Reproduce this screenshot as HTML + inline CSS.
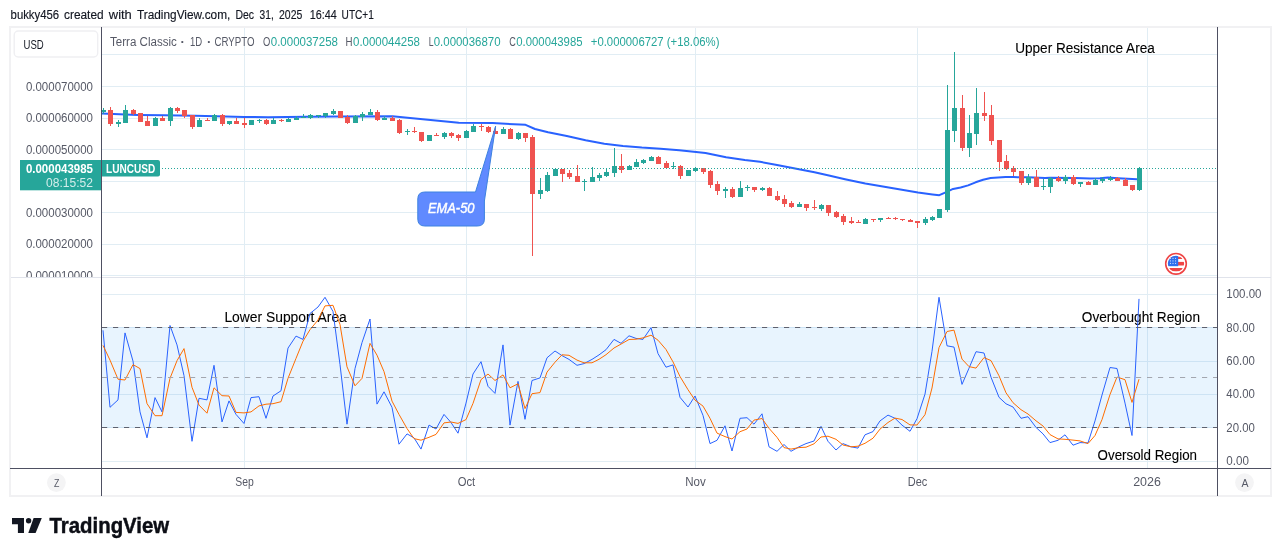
<!DOCTYPE html>
<html><head><meta charset="utf-8"><title>LUNCUSD chart</title>
<style>html,body{margin:0;padding:0;background:#fff}svg{display:block}</style></head>
<body>
<svg width="1281" height="556" viewBox="0 0 1281 556" font-family='"Liberation Sans", sans-serif'>
<rect width="1281" height="556" fill="#fff"/>
<rect x="10" y="27" width="1261" height="469" fill="#fff" stroke="#f1f1f3" stroke-width="2"/>
<defs>
<clipPath id="cp1"><rect x="102" y="28" width="1115" height="249"/></clipPath>
<clipPath id="cp2"><rect x="102" y="278" width="1115" height="190"/></clipPath>
<clipPath id="cpl"><rect x="11" y="28" width="90" height="249"/></clipPath>
<clipPath id="flag"><circle cx="1176" cy="263.8" r="8.1"/></clipPath>
</defs>
<g fill="#e1edf4" shape-rendering="crispEdges">
<rect x="102" y="54" width="1115" height="1"/>
<rect x="102" y="86" width="1115" height="1"/>
<rect x="102" y="118" width="1115" height="1"/>
<rect x="102" y="149" width="1115" height="1"/>
<rect x="102" y="181" width="1115" height="1"/>
<rect x="102" y="212" width="1115" height="1"/>
<rect x="102" y="244" width="1115" height="1"/>
<rect x="102" y="275" width="1115" height="1"/>
<rect x="244" y="28" width="1" height="249"/>
<rect x="244" y="278" width="1" height="190"/>
<rect x="466" y="28" width="1" height="249"/>
<rect x="466" y="278" width="1" height="190"/>
<rect x="695" y="28" width="1" height="249"/>
<rect x="695" y="278" width="1" height="190"/>
<rect x="917" y="28" width="1" height="249"/>
<rect x="917" y="278" width="1" height="190"/>
<rect x="1147" y="28" width="1" height="249"/>
<rect x="1147" y="278" width="1" height="190"/>
<rect x="102" y="294" width="1115" height="1"/>
<rect x="102" y="327" width="1115" height="1"/>
<rect x="102" y="361" width="1115" height="1"/>
<rect x="102" y="394" width="1115" height="1"/>
<rect x="102" y="427" width="1115" height="1"/>
<rect x="102" y="461" width="1115" height="1"/>
</g>
<g clip-path="url(#cp1)">
<polyline points="102,113.6 137.5,114.9 164,115.3 195,115.8 216,116.3 244,116.9 268,117.2 287,117.1 306,116.8 337.5,116.6 392.5,116.25 410,118.1 458.75,122.75 492.5,123.1 520,124.5 525.6,124.8 535,129.0 548.1,132.2 566.8,136 585.6,140.3 604.3,143.7 623,145.9 641.8,147.6 660.5,148.7 679.3,150.2 696.1,152.1 705.5,153 726.1,157.2 744.8,160 760,161.8 777,165.1 814.5,172.3 830,175.7 845,179.2 865.3,183.6 918,192.5 932.5,194.4 939.3,195.2 945.1,192.6 953.1,188.9 960.6,187.5 968.1,185.4 975.6,182.3 983.1,179.8 990.6,178.1 998.1,177.5 1005.6,177.1 1013,177.1 1028,177.3 1045,177.9 1050,177.8 1075,177.9 1090,178.4 1100,178.2 1108,177.6 1118,178.2 1137,179.3" fill="none" stroke="#2962ff" stroke-width="2" stroke-linejoin="round" stroke-linecap="round"/>
<g shape-rendering="crispEdges">
<rect x="103" y="108" width="1" height="6" fill="#26a69a"/><rect x="101" y="110" width="5" height="2" fill="#26a69a"/>
<rect x="110" y="107" width="1" height="19" fill="#ef5350"/><rect x="108" y="110" width="5" height="14" fill="#ef5350"/>
<rect x="118" y="120" width="1" height="7" fill="#26a69a"/><rect x="116" y="122" width="5" height="2" fill="#26a69a"/>
<rect x="125" y="105" width="1" height="18" fill="#26a69a"/><rect x="123" y="110" width="5" height="13" fill="#26a69a"/>
<rect x="133" y="109" width="1" height="6" fill="#ef5350"/><rect x="131" y="110" width="5" height="4" fill="#ef5350"/>
<rect x="140" y="113" width="1" height="9" fill="#ef5350"/><rect x="138" y="113" width="5" height="9" fill="#ef5350"/>
<rect x="147" y="116" width="1" height="10" fill="#ef5350"/><rect x="145" y="121" width="5" height="5" fill="#ef5350"/>
<rect x="155" y="117" width="1" height="9" fill="#26a69a"/><rect x="153" y="118" width="5" height="8" fill="#26a69a"/>
<rect x="162" y="116" width="1" height="5" fill="#ef5350"/><rect x="160" y="118" width="5" height="3" fill="#ef5350"/>
<rect x="170" y="107" width="1" height="19" fill="#26a69a"/><rect x="168" y="108" width="5" height="13" fill="#26a69a"/>
<rect x="177" y="107" width="1" height="6" fill="#ef5350"/><rect x="175" y="108" width="5" height="3" fill="#ef5350"/>
<rect x="184" y="110" width="1" height="8" fill="#ef5350"/><rect x="182" y="110" width="5" height="6" fill="#ef5350"/>
<rect x="192" y="115" width="1" height="14" fill="#ef5350"/><rect x="190" y="115" width="5" height="12" fill="#ef5350"/>
<rect x="199" y="118" width="1" height="9" fill="#26a69a"/><rect x="197" y="120" width="5" height="7" fill="#26a69a"/>
<rect x="207" y="118" width="1" height="3" fill="#ef5350"/><rect x="205" y="120" width="5" height="1" fill="#ef5350"/>
<rect x="214" y="114" width="1" height="7" fill="#26a69a"/><rect x="212" y="115" width="5" height="6" fill="#26a69a"/>
<rect x="222" y="114" width="1" height="12" fill="#ef5350"/><rect x="220" y="115" width="5" height="9" fill="#ef5350"/>
<rect x="229" y="121" width="1" height="4" fill="#26a69a"/><rect x="227" y="121" width="5" height="3" fill="#26a69a"/>
<rect x="236" y="118" width="1" height="6" fill="#ef5350"/><rect x="234" y="121" width="5" height="3" fill="#ef5350"/>
<rect x="244" y="118" width="1" height="10" fill="#ef5350"/><rect x="242" y="123" width="5" height="2" fill="#ef5350"/>
<rect x="251" y="120" width="1" height="5" fill="#26a69a"/><rect x="249" y="120" width="5" height="5" fill="#26a69a"/>
<rect x="259" y="119" width="1" height="4" fill="#26a69a"/><rect x="257" y="120" width="5" height="1" fill="#26a69a"/>
<rect x="266" y="119" width="1" height="6" fill="#ef5350"/><rect x="264" y="120" width="5" height="4" fill="#ef5350"/>
<rect x="273" y="118" width="1" height="6" fill="#26a69a"/><rect x="271" y="120" width="5" height="4" fill="#26a69a"/>
<rect x="281" y="119" width="1" height="3" fill="#ef5350"/><rect x="279" y="120" width="5" height="1" fill="#ef5350"/>
<rect x="288" y="118" width="1" height="4" fill="#26a69a"/><rect x="286" y="119" width="5" height="3" fill="#26a69a"/>
<rect x="296" y="116" width="1" height="4" fill="#26a69a"/><rect x="294" y="118" width="5" height="2" fill="#26a69a"/>
<rect x="303" y="114" width="1" height="4" fill="#26a69a"/><rect x="301" y="117" width="5" height="1" fill="#26a69a"/>
<rect x="310" y="114" width="1" height="5" fill="#26a69a"/><rect x="308" y="115" width="5" height="3" fill="#26a69a"/>
<rect x="318" y="115" width="1" height="3" fill="#26a69a"/><rect x="316" y="115" width="5" height="1" fill="#26a69a"/>
<rect x="325" y="113" width="1" height="5" fill="#26a69a"/><rect x="323" y="113" width="5" height="3" fill="#26a69a"/>
<rect x="333" y="109" width="1" height="6" fill="#26a69a"/><rect x="331" y="111" width="5" height="3" fill="#26a69a"/>
<rect x="340" y="111" width="1" height="7" fill="#ef5350"/><rect x="338" y="111" width="5" height="7" fill="#ef5350"/>
<rect x="347" y="115" width="1" height="9" fill="#ef5350"/><rect x="345" y="117" width="5" height="6" fill="#ef5350"/>
<rect x="355" y="115" width="1" height="8" fill="#26a69a"/><rect x="353" y="116" width="5" height="7" fill="#26a69a"/>
<rect x="362" y="112" width="1" height="9" fill="#26a69a"/><rect x="360" y="114" width="5" height="3" fill="#26a69a"/>
<rect x="370" y="109" width="1" height="6" fill="#26a69a"/><rect x="368" y="112" width="5" height="3" fill="#26a69a"/>
<rect x="377" y="110" width="1" height="11" fill="#ef5350"/><rect x="375" y="112" width="5" height="8" fill="#ef5350"/>
<rect x="384" y="116" width="1" height="4" fill="#26a69a"/><rect x="382" y="118" width="5" height="2" fill="#26a69a"/>
<rect x="392" y="116" width="1" height="5" fill="#ef5350"/><rect x="390" y="118" width="5" height="3" fill="#ef5350"/>
<rect x="399" y="119" width="1" height="15" fill="#ef5350"/><rect x="397" y="120" width="5" height="13" fill="#ef5350"/>
<rect x="407" y="129" width="1" height="6" fill="#26a69a"/><rect x="405" y="131" width="5" height="1" fill="#26a69a"/>
<rect x="414" y="127" width="1" height="6" fill="#ef5350"/><rect x="412" y="131" width="5" height="1" fill="#ef5350"/>
<rect x="421" y="132" width="1" height="10" fill="#ef5350"/><rect x="419" y="132" width="5" height="9" fill="#ef5350"/>
<rect x="429" y="135" width="1" height="6" fill="#26a69a"/><rect x="427" y="135" width="5" height="6" fill="#26a69a"/>
<rect x="436" y="133" width="1" height="3" fill="#ef5350"/><rect x="434" y="135" width="5" height="1" fill="#ef5350"/>
<rect x="444" y="132" width="1" height="7" fill="#26a69a"/><rect x="442" y="133" width="5" height="4" fill="#26a69a"/>
<rect x="451" y="132" width="1" height="6" fill="#ef5350"/><rect x="449" y="133" width="5" height="3" fill="#ef5350"/>
<rect x="458" y="134" width="1" height="7" fill="#ef5350"/><rect x="456" y="135" width="5" height="3" fill="#ef5350"/>
<rect x="466" y="130" width="1" height="8" fill="#26a69a"/><rect x="464" y="131" width="5" height="7" fill="#26a69a"/>
<rect x="473" y="124" width="1" height="8" fill="#26a69a"/><rect x="471" y="126" width="5" height="6" fill="#26a69a"/>
<rect x="481" y="124" width="1" height="7" fill="#ef5350"/><rect x="479" y="126" width="5" height="1" fill="#ef5350"/>
<rect x="488" y="126" width="1" height="7" fill="#ef5350"/><rect x="486" y="127" width="5" height="5" fill="#ef5350"/>
<rect x="495" y="126" width="1" height="8" fill="#ef5350"/><rect x="493" y="131" width="5" height="3" fill="#ef5350"/>
<rect x="503" y="127" width="1" height="7" fill="#26a69a"/><rect x="501" y="129" width="5" height="5" fill="#26a69a"/>
<rect x="510" y="128" width="1" height="11" fill="#ef5350"/><rect x="508" y="129" width="5" height="10" fill="#ef5350"/>
<rect x="518" y="132" width="1" height="8" fill="#26a69a"/><rect x="516" y="133" width="5" height="6" fill="#26a69a"/>
<rect x="525" y="133" width="1" height="9" fill="#ef5350"/><rect x="523" y="133" width="5" height="5" fill="#ef5350"/>
<rect x="532" y="135" width="1" height="121" fill="#ef5350"/><rect x="530" y="137" width="5" height="57" fill="#ef5350"/>
<rect x="540" y="178" width="1" height="21" fill="#26a69a"/><rect x="538" y="190" width="5" height="4" fill="#26a69a"/>
<rect x="547" y="172" width="1" height="20" fill="#26a69a"/><rect x="545" y="175" width="5" height="16" fill="#26a69a"/>
<rect x="555" y="168" width="1" height="8" fill="#26a69a"/><rect x="553" y="169" width="5" height="7" fill="#26a69a"/>
<rect x="562" y="169" width="1" height="13" fill="#ef5350"/><rect x="560" y="169" width="5" height="5" fill="#ef5350"/>
<rect x="569" y="170" width="1" height="9" fill="#ef5350"/><rect x="567" y="173" width="5" height="4" fill="#ef5350"/>
<rect x="577" y="165" width="1" height="17" fill="#ef5350"/><rect x="575" y="176" width="5" height="6" fill="#ef5350"/>
<rect x="584" y="179" width="1" height="12" fill="#26a69a"/><rect x="582" y="181" width="5" height="1" fill="#26a69a"/>
<rect x="592" y="167" width="1" height="15" fill="#26a69a"/><rect x="590" y="177" width="5" height="5" fill="#26a69a"/>
<rect x="599" y="173" width="1" height="8" fill="#26a69a"/><rect x="597" y="175" width="5" height="3" fill="#26a69a"/>
<rect x="606" y="168" width="1" height="9" fill="#26a69a"/><rect x="604" y="172" width="5" height="4" fill="#26a69a"/>
<rect x="614" y="148" width="1" height="29" fill="#26a69a"/><rect x="612" y="166" width="5" height="7" fill="#26a69a"/>
<rect x="621" y="154" width="1" height="19" fill="#ef5350"/><rect x="619" y="166" width="5" height="4" fill="#ef5350"/>
<rect x="629" y="165" width="1" height="5" fill="#26a69a"/><rect x="627" y="166" width="5" height="4" fill="#26a69a"/>
<rect x="636" y="159" width="1" height="8" fill="#26a69a"/><rect x="634" y="162" width="5" height="5" fill="#26a69a"/>
<rect x="643" y="159" width="1" height="5" fill="#26a69a"/><rect x="641" y="160" width="5" height="3" fill="#26a69a"/>
<rect x="651" y="156" width="1" height="5" fill="#26a69a"/><rect x="649" y="157" width="5" height="4" fill="#26a69a"/>
<rect x="658" y="156" width="1" height="8" fill="#ef5350"/><rect x="656" y="157" width="5" height="7" fill="#ef5350"/>
<rect x="666" y="161" width="1" height="7" fill="#ef5350"/><rect x="664" y="163" width="5" height="5" fill="#ef5350"/>
<rect x="673" y="162" width="1" height="7" fill="#26a69a"/><rect x="671" y="166" width="5" height="1" fill="#26a69a"/>
<rect x="680" y="165" width="1" height="14" fill="#ef5350"/><rect x="678" y="166" width="5" height="10" fill="#ef5350"/>
<rect x="688" y="170" width="1" height="6" fill="#26a69a"/><rect x="686" y="170" width="5" height="6" fill="#26a69a"/>
<rect x="695" y="167" width="1" height="5" fill="#26a69a"/><rect x="693" y="168" width="5" height="3" fill="#26a69a"/>
<rect x="703" y="168" width="1" height="6" fill="#ef5350"/><rect x="701" y="168" width="5" height="4" fill="#ef5350"/>
<rect x="710" y="170" width="1" height="18" fill="#ef5350"/><rect x="708" y="171" width="5" height="14" fill="#ef5350"/>
<rect x="717" y="181" width="1" height="14" fill="#ef5350"/><rect x="715" y="184" width="5" height="7" fill="#ef5350"/>
<rect x="725" y="187" width="1" height="11" fill="#26a69a"/><rect x="723" y="189" width="5" height="2" fill="#26a69a"/>
<rect x="732" y="187" width="1" height="11" fill="#ef5350"/><rect x="730" y="189" width="5" height="8" fill="#ef5350"/>
<rect x="740" y="181" width="1" height="16" fill="#26a69a"/><rect x="738" y="188" width="5" height="9" fill="#26a69a"/>
<rect x="747" y="185" width="1" height="6" fill="#26a69a"/><rect x="745" y="187" width="5" height="1" fill="#26a69a"/>
<rect x="754" y="187" width="1" height="5" fill="#ef5350"/><rect x="752" y="187" width="5" height="3" fill="#ef5350"/>
<rect x="762" y="187" width="1" height="4" fill="#26a69a"/><rect x="760" y="188" width="5" height="2" fill="#26a69a"/>
<rect x="769" y="187" width="1" height="9" fill="#ef5350"/><rect x="767" y="188" width="5" height="8" fill="#ef5350"/>
<rect x="777" y="191" width="1" height="10" fill="#ef5350"/><rect x="775" y="196" width="5" height="4" fill="#ef5350"/>
<rect x="784" y="195" width="1" height="12" fill="#ef5350"/><rect x="782" y="199" width="5" height="5" fill="#ef5350"/>
<rect x="791" y="201" width="1" height="7" fill="#ef5350"/><rect x="789" y="203" width="5" height="4" fill="#ef5350"/>
<rect x="799" y="202" width="1" height="5" fill="#26a69a"/><rect x="797" y="204" width="5" height="3" fill="#26a69a"/>
<rect x="806" y="204" width="1" height="7" fill="#ef5350"/><rect x="804" y="204" width="5" height="4" fill="#ef5350"/>
<rect x="814" y="200" width="1" height="10" fill="#ef5350"/><rect x="812" y="207" width="5" height="1" fill="#ef5350"/>
<rect x="821" y="204" width="1" height="7" fill="#26a69a"/><rect x="819" y="205" width="5" height="4" fill="#26a69a"/>
<rect x="828" y="205" width="1" height="11" fill="#ef5350"/><rect x="826" y="205" width="5" height="8" fill="#ef5350"/>
<rect x="836" y="211" width="1" height="7" fill="#ef5350"/><rect x="834" y="212" width="5" height="5" fill="#ef5350"/>
<rect x="843" y="214" width="1" height="11" fill="#ef5350"/><rect x="841" y="216" width="5" height="6" fill="#ef5350"/>
<rect x="851" y="217" width="1" height="7" fill="#ef5350"/><rect x="849" y="221" width="5" height="2" fill="#ef5350"/>
<rect x="858" y="220" width="1" height="3" fill="#ef5350"/><rect x="856" y="222" width="5" height="1" fill="#ef5350"/>
<rect x="865" y="218" width="1" height="6" fill="#26a69a"/><rect x="863" y="219" width="5" height="5" fill="#26a69a"/>
<rect x="873" y="219" width="1" height="3" fill="#ef5350"/><rect x="871" y="219" width="5" height="1" fill="#ef5350"/>
<rect x="880" y="218" width="1" height="4" fill="#26a69a"/><rect x="878" y="218" width="5" height="2" fill="#26a69a"/>
<rect x="888" y="217" width="1" height="2" fill="#ef5350"/><rect x="886" y="218" width="5" height="1" fill="#ef5350"/>
<rect x="895" y="217" width="1" height="3" fill="#ef5350"/><rect x="893" y="218" width="5" height="1" fill="#ef5350"/>
<rect x="902" y="219" width="1" height="2" fill="#ef5350"/><rect x="900" y="219" width="5" height="1" fill="#ef5350"/>
<rect x="910" y="219" width="1" height="3" fill="#ef5350"/><rect x="908" y="220" width="5" height="2" fill="#ef5350"/>
<rect x="917" y="221" width="1" height="7" fill="#ef5350"/><rect x="915" y="221" width="5" height="2" fill="#ef5350"/>
<rect x="925" y="217" width="1" height="8" fill="#26a69a"/><rect x="923" y="219" width="5" height="4" fill="#26a69a"/>
<rect x="932" y="216" width="1" height="5" fill="#26a69a"/><rect x="930" y="217" width="5" height="3" fill="#26a69a"/>
<rect x="939" y="209" width="1" height="9" fill="#26a69a"/><rect x="937" y="209" width="5" height="9" fill="#26a69a"/>
<rect x="947" y="85" width="1" height="127" fill="#26a69a"/><rect x="945" y="130" width="5" height="80" fill="#26a69a"/>
<rect x="954" y="52" width="1" height="90" fill="#26a69a"/><rect x="952" y="108" width="5" height="23" fill="#26a69a"/>
<rect x="962" y="95" width="1" height="56" fill="#ef5350"/><rect x="960" y="108" width="5" height="40" fill="#ef5350"/>
<rect x="969" y="115" width="1" height="42" fill="#26a69a"/><rect x="967" y="133" width="5" height="15" fill="#26a69a"/>
<rect x="976" y="88" width="1" height="57" fill="#26a69a"/><rect x="974" y="113" width="5" height="21" fill="#26a69a"/>
<rect x="984" y="92" width="1" height="29" fill="#ef5350"/><rect x="982" y="113" width="5" height="3" fill="#ef5350"/>
<rect x="991" y="105" width="1" height="40" fill="#ef5350"/><rect x="989" y="115" width="5" height="26" fill="#ef5350"/>
<rect x="999" y="140" width="1" height="31" fill="#ef5350"/><rect x="997" y="140" width="5" height="22" fill="#ef5350"/>
<rect x="1006" y="155" width="1" height="15" fill="#ef5350"/><rect x="1004" y="161" width="5" height="8" fill="#ef5350"/>
<rect x="1013" y="166" width="1" height="10" fill="#ef5350"/><rect x="1011" y="168" width="5" height="4" fill="#ef5350"/>
<rect x="1021" y="171" width="1" height="14" fill="#ef5350"/><rect x="1019" y="171" width="5" height="12" fill="#ef5350"/>
<rect x="1028" y="174" width="1" height="11" fill="#26a69a"/><rect x="1026" y="177" width="5" height="6" fill="#26a69a"/>
<rect x="1036" y="170" width="1" height="17" fill="#ef5350"/><rect x="1034" y="177" width="5" height="10" fill="#ef5350"/>
<rect x="1043" y="179" width="1" height="11" fill="#26a69a"/><rect x="1041" y="186" width="5" height="1" fill="#26a69a"/>
<rect x="1050" y="177" width="1" height="16" fill="#26a69a"/><rect x="1048" y="178" width="5" height="9" fill="#26a69a"/>
<rect x="1058" y="176" width="1" height="6" fill="#ef5350"/><rect x="1056" y="178" width="5" height="3" fill="#ef5350"/>
<rect x="1065" y="175" width="1" height="9" fill="#26a69a"/><rect x="1063" y="177" width="5" height="4" fill="#26a69a"/>
<rect x="1073" y="175" width="1" height="10" fill="#ef5350"/><rect x="1071" y="177" width="5" height="7" fill="#ef5350"/>
<rect x="1080" y="182" width="1" height="5" fill="#26a69a"/><rect x="1078" y="182" width="5" height="2" fill="#26a69a"/>
<rect x="1088" y="181" width="1" height="4" fill="#ef5350"/><rect x="1086" y="182" width="5" height="3" fill="#ef5350"/>
<rect x="1095" y="178" width="1" height="7" fill="#26a69a"/><rect x="1093" y="180" width="5" height="5" fill="#26a69a"/>
<rect x="1102" y="177" width="1" height="6" fill="#26a69a"/><rect x="1100" y="179" width="5" height="2" fill="#26a69a"/>
<rect x="1110" y="176" width="1" height="5" fill="#26a69a"/><rect x="1108" y="178" width="5" height="2" fill="#26a69a"/>
<rect x="1117" y="177" width="1" height="4" fill="#ef5350"/><rect x="1115" y="178" width="5" height="3" fill="#ef5350"/>
<rect x="1125" y="178" width="1" height="8" fill="#ef5350"/><rect x="1123" y="180" width="5" height="6" fill="#ef5350"/>
<rect x="1132" y="185" width="1" height="6" fill="#ef5350"/><rect x="1130" y="185" width="5" height="5" fill="#ef5350"/>
<rect x="1139" y="167" width="1" height="24" fill="#26a69a"/><rect x="1137" y="168" width="5" height="22" fill="#26a69a"/>
</g>
<line x1="102" x2="1217" y1="168.5" y2="168.5" stroke="#26a69a" stroke-width="1" stroke-dasharray="1 2" shape-rendering="crispEdges"/>
<path d="M424.8,192 H475.5 L495.6,126.2 L484.4,201 V219 Q484.4,226 477.4,226 H424.8 Q417.8,226 417.8,219 V199 Q417.8,192 424.8,192 Z" fill="#608aff" stroke="#3d82e0" stroke-width="1"/>
<text x="427.9" y="213" font-size="14" fill="#fff" textLength="46.6" lengthAdjust="spacingAndGlyphs" font-style="italic" stroke="#fff" stroke-width="0.45">EMA-50</text>
</g>
<text x="1015.2" y="53" font-size="14" fill="#000" textLength="139.6" lengthAdjust="spacingAndGlyphs" stroke="#000" stroke-width="0.1">Upper Resistance Area</text>
<circle cx="1176" cy="263.8" r="10.3" fill="#fff" stroke="#ef4444" stroke-width="1.6"/>
<g clip-path="url(#flag)">
<rect x="1166" y="254" width="20" height="20" fill="#fff"/>
<rect x="1166" y="256.7" width="20" height="2.3" fill="#ef4444"/>
<rect x="1166" y="261.9" width="20" height="3.6" fill="#ef4444"/>
<rect x="1166" y="268.0" width="20" height="3.3" fill="#ef4444"/>
<rect x="1166" y="254" width="12.2" height="12.2" fill="#2f6fed"/>
<circle cx="1170.4" cy="258.4" r="0.55" fill="#fff" fill-opacity="0.8"/>
<circle cx="1170.4" cy="260.9" r="0.55" fill="#fff" fill-opacity="0.8"/>
<circle cx="1170.4" cy="263.4" r="0.55" fill="#fff" fill-opacity="0.8"/>
<circle cx="1173" cy="258.4" r="0.55" fill="#fff" fill-opacity="0.8"/>
<circle cx="1173" cy="260.9" r="0.55" fill="#fff" fill-opacity="0.8"/>
<circle cx="1173" cy="263.4" r="0.55" fill="#fff" fill-opacity="0.8"/>
<circle cx="1175.6" cy="258.4" r="0.55" fill="#fff" fill-opacity="0.8"/>
<circle cx="1175.6" cy="260.9" r="0.55" fill="#fff" fill-opacity="0.8"/>
<circle cx="1175.6" cy="263.4" r="0.55" fill="#fff" fill-opacity="0.8"/>
</g>
<g clip-path="url(#cp2)">
<rect x="102" y="327" width="1115" height="101" fill="#2196f3" fill-opacity="0.1"/>
<text x="224.4" y="322.4" font-size="14" fill="#000" textLength="122.4" lengthAdjust="spacingAndGlyphs" stroke="#000" stroke-width="0.1">Lower Support Area</text>
<text x="1081.8" y="322.3" font-size="14" fill="#000" textLength="118.2" lengthAdjust="spacingAndGlyphs" stroke="#000" stroke-width="0.1">Overbought Region</text>
<text x="1097.6" y="459.6" font-size="14" fill="#000" textLength="99.4" lengthAdjust="spacingAndGlyphs" stroke="#000" stroke-width="0.1">Oversold Region</text>
<polyline points="103.0,330.3 110.0,407.3 118.0,399.9 125.0,332.9 133.0,361.1 140.0,411.9 147.0,437.8 155.0,397.6 162.0,411.9 170.0,325.5 177.0,344.9 184.0,375.6 192.0,441.3 199.0,398.3 207.0,399.9 214.0,365.3 222.0,421.9 229.0,400.9 236.0,414.4 244.0,423.5 251.0,397.6 259.0,396.7 266.0,418.3 273.0,396.0 281.0,390.8 288.0,348.1 296.0,336.1 303.0,339.4 310.0,313.5 318.0,307.0 325.0,297.3 333.0,311.5 340.0,364.6 347.0,424.2 355.0,368.5 362.0,342.6 370.0,319.0 377.0,404.1 384.0,391.8 392.0,407.3 399.0,444.2 407.0,433.9 414.0,437.8 421.0,449.1 429.0,425.1 436.0,429.0 444.0,414.4 451.0,422.5 458.0,433.2 466.0,403.1 473.0,374.0 481.0,361.7 488.0,386.3 495.0,393.4 503.0,344.9 510.0,425.1 518.0,381.4 525.0,419.3 532.0,380.5 540.0,377.9 547.0,357.8 555.0,351.0 562.0,355.6 569.0,359.4 577.0,365.3 584.0,363.6 592.0,359.4 599.0,354.9 606.0,349.7 614.0,339.4 621.0,343.3 629.0,335.8 636.0,338.4 643.0,339.4 651.0,327.7 658.0,353.6 666.0,367.2 673.0,364.9 680.0,397.3 688.0,407.0 695.0,396.0 703.0,415.4 710.0,443.6 717.0,440.3 725.0,425.8 732.0,451.0 740.0,418.3 747.0,417.7 754.0,424.2 762.0,413.8 769.0,446.8 777.0,451.3 784.0,444.5 791.0,451.3 799.0,446.8 806.0,443.6 814.0,441.0 821.0,426.4 828.0,441.3 836.0,450.0 843.0,443.6 851.0,446.8 858.0,448.1 865.0,434.8 873.0,431.6 880.0,420.9 888.0,415.1 895.0,418.3 902.0,425.1 910.0,431.3 917.0,418.7 925.0,394.1 932.0,351.3 939.0,297.3 947.0,345.8 954.0,347.1 962.0,384.4 969.0,368.2 976.0,351.7 984.0,353.0 991.0,377.2 999.0,397.3 1006.0,403.8 1013.0,407.0 1021.0,418.3 1028.0,416.7 1036.0,427.4 1043.0,433.9 1050.0,442.6 1058.0,440.3 1065.0,434.8 1073.0,445.2 1080.0,442.6 1088.0,442.9 1095.0,420.9 1102.0,395.0 1110.0,367.5 1117.0,368.5 1125.0,403.1 1132.0,435.5 1139.0,298.9" fill="none" stroke="#2962ff" stroke-width="1" stroke-linejoin="round"/>
<polyline points="103.0,345.4 110.0,360.1 118.0,379.2 125.0,380.0 133.0,364.6 140.0,368.6 147.0,403.6 155.0,415.7 162.0,415.7 170.0,378.3 177.0,360.7 184.0,348.6 192.0,387.3 199.0,405.1 207.0,413.2 214.0,387.8 222.0,395.7 229.0,396.0 236.0,412.4 244.0,412.9 251.0,411.9 259.0,405.9 266.0,404.2 273.0,403.7 281.0,401.7 288.0,378.3 296.0,358.4 303.0,341.2 310.0,329.7 318.0,320.0 325.0,305.9 333.0,305.3 340.0,324.5 347.0,366.8 355.0,385.8 362.0,378.4 370.0,343.4 377.0,355.2 384.0,371.6 392.0,401.1 399.0,414.4 407.0,428.5 414.0,438.6 421.0,440.2 429.0,437.3 436.0,434.4 444.0,422.9 451.0,422.0 458.0,423.4 466.0,419.6 473.0,403.4 481.0,379.6 488.0,374.0 495.0,380.5 503.0,374.9 510.0,387.8 518.0,383.8 525.0,408.6 532.0,393.7 540.0,392.6 547.0,372.1 555.0,362.2 562.0,354.8 569.0,355.3 577.0,360.1 584.0,362.8 592.0,362.8 599.0,359.3 606.0,354.7 614.0,348.0 621.0,344.1 629.0,339.5 636.0,339.2 643.0,337.9 651.0,335.2 658.0,340.2 666.0,349.5 673.0,361.9 680.0,376.5 688.0,389.7 695.0,400.1 703.0,406.1 710.0,418.3 717.0,433.1 725.0,436.6 732.0,439.0 740.0,431.7 747.0,429.0 754.0,420.1 762.0,418.5 769.0,428.3 777.0,437.3 784.0,447.6 791.0,449.1 799.0,447.6 806.0,447.2 814.0,443.8 821.0,437.0 828.0,436.2 836.0,439.3 843.0,445.0 851.0,446.8 858.0,446.2 865.0,443.3 873.0,438.2 880.0,429.1 888.0,422.5 895.0,418.1 902.0,419.5 910.0,424.9 917.0,425.0 925.0,414.7 932.0,388.0 939.0,347.6 947.0,331.5 954.0,330.1 962.0,359.1 969.0,366.6 976.0,368.1 984.0,357.6 991.0,360.6 999.0,375.8 1006.0,392.8 1013.0,402.7 1021.0,409.7 1028.0,414.0 1036.0,420.8 1043.0,426.0 1050.0,434.6 1058.0,438.9 1065.0,439.3 1073.0,440.1 1080.0,440.9 1088.0,443.6 1095.0,435.5 1102.0,419.6 1110.0,394.5 1117.0,377.0 1125.0,379.7 1132.0,402.4 1139.0,379.2" fill="none" stroke="#ff6d00" stroke-width="1" stroke-linejoin="round"/>
<line x1="102" x2="1217" y1="327.5" y2="327.5" stroke="#5e616e" stroke-width="1" stroke-dasharray="5.2 5.8"/>
<line x1="102" x2="1217" y1="427.5" y2="427.5" stroke="#5e616e" stroke-width="1" stroke-dasharray="5.2 5.8"/>
<line x1="102" x2="1217" y1="377.5" y2="377.5" stroke="#a3a6af" stroke-width="1" stroke-dasharray="5.2 5.8"/>
</g>
<g shape-rendering="crispEdges">
<rect x="11" y="277" width="1260" height="1" fill="#e0e3eb"/>
<rect x="101" y="27" width="1" height="469" fill="#4e5062"/>
<rect x="1217" y="27" width="1" height="469" fill="#4e5062"/>
<rect x="10" y="468" width="1261" height="1" fill="#4e5062"/>
</g>
<g clip-path="url(#cpl)">
<text x="25.9" y="91.0" font-size="12" fill="#565966" textLength="67.1" lengthAdjust="spacingAndGlyphs" >0.000070000</text>
<text x="25.9" y="122.2" font-size="12" fill="#565966" textLength="67.1" lengthAdjust="spacingAndGlyphs" >0.000060000</text>
<text x="25.9" y="153.5" font-size="12" fill="#565966" textLength="67.1" lengthAdjust="spacingAndGlyphs" >0.000050000</text>
<text x="25.9" y="216.6" font-size="12" fill="#565966" textLength="67.1" lengthAdjust="spacingAndGlyphs" >0.000030000</text>
<text x="25.9" y="248.1" font-size="12" fill="#565966" textLength="67.1" lengthAdjust="spacingAndGlyphs" >0.000020000</text>
<text x="25.9" y="279.6" font-size="12" fill="#565966" textLength="67.1" lengthAdjust="spacingAndGlyphs" >0.000010000</text>
</g>
<rect x="14.2" y="31" width="83.5" height="26" rx="4" fill="#fff" stroke="#efeff2" stroke-width="1.4"/>
<text x="23.5" y="48.8" font-size="12" fill="#131722" textLength="20.2" lengthAdjust="spacingAndGlyphs" >USD</text>
<rect x="20" y="160" width="81" height="30.3" fill="#26a69a"/>
<path d="M102,160 H158 Q160,160 160,162 V174.4 Q160,176.4 158,176.4 H102 Z" fill="#26a69a"/>
<text x="25.9" y="172.5" font-size="12" fill="#fff" textLength="67.1" lengthAdjust="spacingAndGlyphs" font-weight="bold" >0.000043985</text>
<text x="46.1" y="186.6" font-size="12" fill="#fff" textLength="46.9" lengthAdjust="spacingAndGlyphs" fill-opacity="0.8">08:15:52</text>
<text x="106" y="172.9" font-size="12" fill="#fff" textLength="49.3" lengthAdjust="spacingAndGlyphs" font-weight="bold" >LUNCUSD</text>
<text x="110" y="46" font-size="12" fill="#565966" textLength="66.8" lengthAdjust="spacingAndGlyphs" >Terra Classic</text>
<text x="180.6" y="46" font-size="13" fill="#565966" font-weight="bold" >·</text>
<text x="190" y="46" font-size="12" fill="#565966" textLength="12.2" lengthAdjust="spacingAndGlyphs" >1D</text>
<text x="206.9" y="46" font-size="13" fill="#565966" font-weight="bold" >·</text>
<text x="214.5" y="46" font-size="12" fill="#565966" textLength="40" lengthAdjust="spacingAndGlyphs" >CRYPTO</text>
<text x="263" y="46" font-size="12" fill="#565966" textLength="7.3" lengthAdjust="spacingAndGlyphs" >O</text>
<text x="270.75" y="46" font-size="12" fill="#26a69a" textLength="67.2" lengthAdjust="spacingAndGlyphs" >0.000037258</text>
<text x="345.5" y="46" font-size="12" fill="#565966" textLength="7" lengthAdjust="spacingAndGlyphs" >H</text>
<text x="353" y="46" font-size="12" fill="#26a69a" textLength="67" lengthAdjust="spacingAndGlyphs" >0.000044258</text>
<text x="428.75" y="46" font-size="12" fill="#565966" textLength="4.8" lengthAdjust="spacingAndGlyphs" >L</text>
<text x="433.75" y="46" font-size="12" fill="#26a69a" textLength="66.75" lengthAdjust="spacingAndGlyphs" >0.000036870</text>
<text x="509.25" y="46" font-size="12" fill="#565966" textLength="6.6" lengthAdjust="spacingAndGlyphs" >C</text>
<text x="516.25" y="46" font-size="12" fill="#26a69a" textLength="66.25" lengthAdjust="spacingAndGlyphs" >0.000043985</text>
<text x="590.75" y="46" font-size="12" fill="#26a69a" textLength="128.75" lengthAdjust="spacingAndGlyphs" >+0.000006727 (+18.06%)</text>
<text x="1226.3" y="298.1" font-size="12" fill="#565966" textLength="35.2" lengthAdjust="spacingAndGlyphs" >100.00</text>
<text x="1226.3" y="331.5" font-size="12" fill="#565966" textLength="28.5" lengthAdjust="spacingAndGlyphs" >80.00</text>
<text x="1226.3" y="365" font-size="12" fill="#565966" textLength="28.5" lengthAdjust="spacingAndGlyphs" >60.00</text>
<text x="1226.3" y="398.2" font-size="12" fill="#565966" textLength="28.5" lengthAdjust="spacingAndGlyphs" >40.00</text>
<text x="1226.3" y="431.6" font-size="12" fill="#565966" textLength="28.5" lengthAdjust="spacingAndGlyphs" >20.00</text>
<text x="1226.3" y="464.8" font-size="12" fill="#565966" textLength="22.6" lengthAdjust="spacingAndGlyphs" >0.00</text>
<text x="235.25" y="486.2" font-size="12" fill="#565966" textLength="18.5" lengthAdjust="spacingAndGlyphs" >Sep</text>
<text x="457.75" y="486.2" font-size="12" fill="#565966" textLength="17.5" lengthAdjust="spacingAndGlyphs" >Oct</text>
<text x="685.25" y="486.2" font-size="12" fill="#565966" textLength="20.5" lengthAdjust="spacingAndGlyphs" >Nov</text>
<text x="907.75" y="486.2" font-size="12" fill="#565966" textLength="19.5" lengthAdjust="spacingAndGlyphs" >Dec</text>
<text x="1133.15" y="486.2" font-size="12" fill="#565966" textLength="27.7" lengthAdjust="spacingAndGlyphs" >2026</text>
<circle cx="56.4" cy="482.6" r="9.4" fill="#f4f4f5"/>
<text x="53.9" y="487" font-size="11.5" fill="#565966" textLength="5.4" lengthAdjust="spacingAndGlyphs" >Z</text>
<circle cx="1244.5" cy="482.6" r="9.4" fill="#f4f4f5"/>
<text x="1241.5" y="487" font-size="11.5" fill="#565966" textLength="7" lengthAdjust="spacingAndGlyphs" >A</text>
<text x="10.6" y="18.8" font-size="12" fill="#131722" textLength="48.5" lengthAdjust="spacingAndGlyphs" stroke="#131722" stroke-width="0.15">bukky456</text>
<text x="64" y="18.8" font-size="12" fill="#131722" textLength="39.6" lengthAdjust="spacingAndGlyphs" stroke="#131722" stroke-width="0.15">created</text>
<text x="108.8" y="18.8" font-size="12" fill="#131722" textLength="23.0" lengthAdjust="spacingAndGlyphs" stroke="#131722" stroke-width="0.15">with</text>
<text x="137" y="18.8" font-size="12" fill="#131722" textLength="93.3" lengthAdjust="spacingAndGlyphs" stroke="#131722" stroke-width="0.15">TradingView.com,</text>
<text x="235.5" y="18.8" font-size="12" fill="#131722" textLength="18.6" lengthAdjust="spacingAndGlyphs" stroke="#131722" stroke-width="0.15">Dec</text>
<text x="259.6" y="18.8" font-size="12" fill="#131722" textLength="14.2" lengthAdjust="spacingAndGlyphs" stroke="#131722" stroke-width="0.15">31,</text>
<text x="279" y="18.8" font-size="12" fill="#131722" textLength="23.3" lengthAdjust="spacingAndGlyphs" stroke="#131722" stroke-width="0.15">2025</text>
<text x="309.7" y="18.8" font-size="12" fill="#131722" textLength="27.1" lengthAdjust="spacingAndGlyphs" stroke="#131722" stroke-width="0.15">16:44</text>
<text x="341.6" y="18.8" font-size="12" fill="#131722" textLength="32.3" lengthAdjust="spacingAndGlyphs" stroke="#131722" stroke-width="0.15">UTC+1</text>
<g fill="#131722">
<path d="M12,518.1 H24 V533 H17.9 V524.2 H12 Z"/>
<circle cx="28.6" cy="520.8" r="2.7"/>
<path d="M33.6,518.1 H41.8 L35.6,533 H28.3 Z"/>
</g>
<text x="49.5" y="533" font-size="21.5" fill="#0c0e15" textLength="119.7" lengthAdjust="spacingAndGlyphs" font-weight="bold" stroke="#0c0e15" stroke-width="0.45">TradingView</text>
</svg>
</body></html>
